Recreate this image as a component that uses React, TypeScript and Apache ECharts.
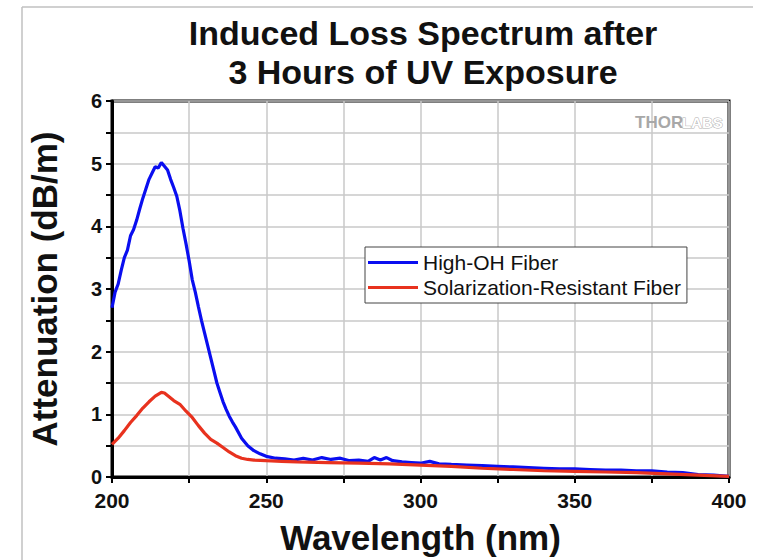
import React, { useEffect, useRef } from "react";
import * as echarts from "echarts";

const titleLines = ["Induced Loss Spectrum after", "3 Hours of UV Exposure"];
const xAxisName = "Wavelength (nm)";
const yAxisName = "Attenuation (dB/m)";
const seriesNames = ["High-OH Fiber", "Solarization-Resistant Fiber"];

const highOHWavelength = [
  200, 201, 202, 203, 204, 205, 206, 207, 208, 209, 210, 211, 212, 213, 214, 215, 216, 217, 218, 219,
  220, 221, 222, 223, 224, 225, 226, 227, 228, 229, 230, 231, 232, 233, 234, 235, 236, 237, 238, 239,
  240, 242, 244, 246, 248, 250, 253, 256, 259, 262, 265, 268, 271, 274, 277, 280, 283, 285, 287, 289,
  291, 294, 297, 300, 303, 306, 310, 315, 320, 325, 330, 335, 340, 345, 350, 355, 360, 365, 370, 375,
  380, 385, 390, 395, 400,
];
const highOHValues = [
  2.7, 2.95, 3.08, 3.3, 3.5, 3.62, 3.85, 3.95, 4.1, 4.28, 4.45, 4.6, 4.75, 4.85, 4.95, 4.93, 5.02, 4.96, 4.9, 4.75,
  4.62, 4.48, 4.25, 3.97, 3.72, 3.45, 3.15, 2.95, 2.72, 2.5, 2.3, 2.1, 1.9, 1.7, 1.5, 1.35, 1.2, 1.08, 0.97, 0.88,
  0.8, 0.62, 0.5, 0.42, 0.37, 0.33, 0.3, 0.29, 0.27, 0.3, 0.27, 0.31, 0.28, 0.3, 0.26, 0.27, 0.25, 0.31, 0.27, 0.31,
  0.26, 0.24, 0.23, 0.22, 0.25, 0.21, 0.2, 0.19, 0.18, 0.17, 0.16, 0.15, 0.14, 0.13, 0.13, 0.12, 0.11, 0.11, 0.1, 0.1,
  0.08, 0.07, 0.04, 0.03, 0.01,
];

const solarWavelength = [
  200, 202, 204, 206, 208, 210, 212, 214, 216, 217, 218, 220, 222, 224, 226, 228, 230, 232, 234, 236,
  238, 240, 242, 244, 246, 250, 255, 260, 270, 280, 290, 300, 310, 320, 330, 340, 350, 360, 370, 380,
  390, 400,
];
const solarValues = [
  0.52, 0.62, 0.74, 0.87, 0.98, 1.1, 1.2, 1.29, 1.35, 1.34, 1.3, 1.22, 1.16, 1.05, 0.95, 0.82, 0.7, 0.6, 0.54, 0.47,
  0.4, 0.34, 0.3, 0.28, 0.27, 0.26, 0.25, 0.24, 0.23, 0.22, 0.21, 0.19, 0.17, 0.14, 0.12, 0.1, 0.09, 0.08, 0.07, 0.05,
  0.03, 0.01,
];

const FONT = "'Liberation Sans', Arial, sans-serif";

export default function App() {
  const ref = useRef<HTMLDivElement>(null);
  useEffect(() => {
    if (!ref.current) return;
    const chart = echarts.init(ref.current, null, { renderer: "svg" });
    const blueData = highOHWavelength.map((x, i) => [x, highOHValues[i]]);
    const redData = solarWavelength.map((x, i) => [x, solarValues[i]]);
    chart.setOption({
      animation: false,
      backgroundColor: "#ffffff",
      grid: {
        left: 112,
        right: 40,
        top: 101,
        bottom: 78,
        show: true,
        borderColor: "#000",
        borderWidth: 3,
        backgroundColor: "transparent",
      },
      graphic: [
        { type: "line", shape: { x1: 22, y1: 7, x2: 753, y2: 7 }, style: { stroke: "#c0c0c0", lineWidth: 1.5 } },
        { type: "line", shape: { x1: 22, y1: 7, x2: 22, y2: 560 }, style: { stroke: "#c0c0c0", lineWidth: 1.5 } },
        {
          type: "text",
          x: 423,
          y: 33,
          style: { text: titleLines[0], align: "center", verticalAlign: "middle", fontSize: 34, fontWeight: "bold", fontFamily: FONT, fill: "#111" },
        },
        {
          type: "text",
          x: 423,
          y: 72,
          style: { text: titleLines[1], align: "center", verticalAlign: "middle", fontSize: 34, fontWeight: "bold", fontFamily: FONT, fill: "#111" },
        },
        {
          type: "text",
          x: 635,
          y: 122,
          z: 10,
          style: { text: "THOR", align: "left", verticalAlign: "middle", fontSize: 17, fontWeight: "bold", fontFamily: FONT, fill: "#a8a8a8" },
        },
        {
          type: "text",
          x: 682,
          y: 122,
          z: 10,
          style: { text: "LABS", align: "left", verticalAlign: "middle", fontSize: 15, fontWeight: "bold", fontFamily: FONT, fill: "#ffffff", stroke: "#b0b0b0", lineWidth: 1 },
        },
      ],
      legend: {
        orient: "vertical",
        left: 365,
        top: 247,
        backgroundColor: "#fff",
        borderColor: "#444",
        borderWidth: 1,
        borderRadius: 0,
        padding: [5, 6, 5, 3],
        itemGap: 4,
        itemWidth: 50,
        itemHeight: 3,
        icon: "rect",
        textStyle: { fontSize: 21, fontFamily: FONT, color: "#111", padding: [0, 0, 0, 0] },
        data: seriesNames,
      },
      xAxis: {
        type: "value",
        min: 200,
        max: 400,
        interval: 50,
        name: xAxisName,
        nameLocation: "middle",
        nameGap: 43,
        nameTextStyle: { fontSize: 35, fontWeight: "bold", fontFamily: FONT, color: "#111" },
        axisLine: { onZero: false, lineStyle: { color: "#000", width: 3 } },
        axisTick: { show: true, inside: false, length: 6, lineStyle: { color: "#000", width: 2 } },
        minorTick: { show: true, splitNumber: 2, length: 6, lineStyle: { color: "#000", width: 2 } },
        axisLabel: { fontSize: 21, fontWeight: "bold", fontFamily: FONT, color: "#111", margin: 13 },
        splitLine: { show: true, lineStyle: { color: "#c8c8c8", width: 1.5 } },
        minorSplitLine: { show: true, lineStyle: { color: "#c8c8c8", width: 1.5 } },
      },
      yAxis: {
        type: "value",
        min: 0,
        max: 6,
        interval: 1,
        name: yAxisName,
        nameLocation: "middle",
        nameGap: 50,
        nameRotate: 90,
        nameTextStyle: { fontSize: 35, fontWeight: "bold", fontFamily: FONT, color: "#111" },
        axisLine: { show: true, lineStyle: { color: "#000", width: 3 } },
        axisTick: { show: true, inside: false, length: 6, lineStyle: { color: "#000", width: 2 } },
        minorTick: { show: true, splitNumber: 2, length: 6, lineStyle: { color: "#000", width: 2 } },
        axisLabel: { fontSize: 20, fontWeight: "bold", fontFamily: FONT, color: "#111", margin: 10 },
        splitLine: { show: true, lineStyle: { color: "#c8c8c8", width: 1.5 } },
        minorSplitLine: { show: true, lineStyle: { color: "#c8c8c8", width: 1.5 } },
      },
      series: [
        {
          name: seriesNames[0],
          type: "line",
          data: blueData,
          showSymbol: false,
          symbol: "none",
          lineStyle: { color: "#0a0ef0", width: 3.2 },
          itemStyle: { color: "#0a0ef0" },
          z: 3,
        },
        {
          name: seriesNames[1],
          type: "line",
          data: redData,
          showSymbol: false,
          symbol: "none",
          lineStyle: { color: "#e8321e", width: 3.2 },
          itemStyle: { color: "#e8321e" },
          z: 4,
        },
      ],
    });
    return () => chart.dispose();
  }, []);
  return (
    <div
      ref={ref}
      style={{ position: "fixed", left: 0, top: 0, width: 769, height: 560, background: "#fff" }}
    />
  );
}
